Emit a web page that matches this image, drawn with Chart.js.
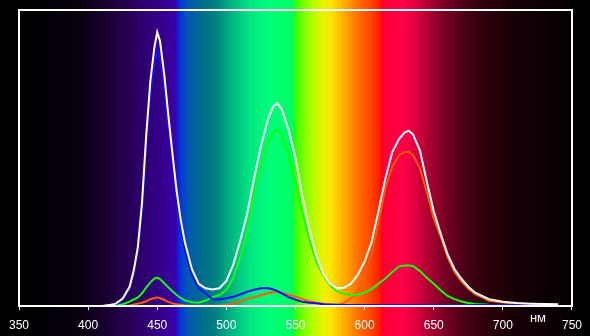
<!DOCTYPE html>
<html lang="ru">
<head>
  <meta charset="UTF-8">
  <title>Spectrum</title>
  <style>
    html, body { margin: 0; padding: 0; background: #000; }
    #wrap { width: 590px; height: 336px; }
  </style>
  <script src="https://cdn.jsdelivr.net/npm/chart.js"></script>
</head>
<body>
  <div id="wrap"><canvas id="spectrum"></canvas></div>
  <script>
    // wavelengths (nm) and relative intensity of each channel
    const wavelengths = [410, 415, 420, 425, 430, 433, 436, 439, 442, 445, 448, 450, 452, 455, 458, 461, 464, 467, 470, 475,
      480, 485, 490, 495, 500, 505, 510, 515, 520, 525, 530, 534, 537, 540, 545, 550, 555, 560, 565, 570,
      575, 580, 585, 590, 595, 600, 605, 610, 615, 620, 625, 629, 632, 635, 640, 645, 650, 655, 660, 665,
      670, 675, 680, 690, 700, 710, 720, 730, 740];

    const whiteValues = [0, 0.3, 0.8, 2.5, 6.5, 12, 20, 35, 57.5, 76, 87.6, 92.5, 89.5, 78.5, 64.5, 51.5, 39, 29, 21.5, 12.5,
      7.5, 6, 5.6, 6, 8.5, 14, 22, 31, 43, 54, 63, 67.5, 68.5, 66.5, 59.5, 50, 37, 26, 17, 11,
      7.5, 6, 6.2, 7.5, 10.5, 15, 21.5, 32, 43, 52, 56.5, 58.7, 59.2, 58, 52.5, 42, 32, 24.5, 17.5, 12.5,
      9.2, 6.5, 4.5, 2.3, 1.4, 1.0, 0.8, 0.7, 0.6];

    const blueValues = [0, 0, 0.4, 2.2, 6, 11, 18.5, 32, 54, 71, 82, 86.8, 84, 74, 61, 48.5, 36, 26.5, 19, 10.5,
      6, 4.2, 2.3, 2.2, 2.6, 3.1, 3.9, 4.8, 5.5, 6, 6.1, 5.6, 5, 4.3, 3, 2.1, 1.4, 1.1, 0.9, 0.6,
      0.5, 0.4, 0.3, 0.3, 0.3, 0.3, 0.3, 0.3, 0.3, 0.3, 0.3, 0.3, 0.3, 0.3, 0.3, 0.3, 0.3, 0.3, 0.3, 0.3,
      0.3, 0.3, 0.3, 0.3, 0.3, 0.3, 0.3, 0.3, 0.3];

    const greenValues = [0, 0, 0.2, 0.6, 1.5, 2.2, 2.9, 4.3, 6.2, 8, 9.3, 9.6, 9.1, 7.7, 6.3, 5, 3.7, 2.7, 1.9, 1.3,
      1.1, 1.8, 3, 3.7, 5.5, 9.5, 16.5, 25, 37.5, 47.5, 55, 58.8, 59.5, 58, 51.5, 42, 31.5, 22.5, 15, 10.5,
      7, 5, 4.1, 3.8, 3.8, 4.5, 5.7, 7.5, 9.3, 11.5, 13.4, 13.7, 13.7, 13.5, 11.8, 9.5, 7.5, 5.3, 3.4, 2.3,
      1.5, 1.0, 0.7, 0.4, 0.3, 0.3, 0.2, null, null];

    const orangeValues = [0, 0, 0, 0, 0.2, 0.5, 0.8, 1.1, 1.6, 2.3, 2.7, 2.9, 2.6, 2.1, 1.4, 0.9, 0.6, 0.4, 0.2, 0.1,
      0.1, 0.1, 0.1, 0.1, 0.4, 0.8, 1.6, 2.4, 3.0, 3.7, 4.3, 4.7, 4.8, 4.5, 3.8, 3.1, 2.4, 1.6, 1.1, 0.8,
      0.5, 0.3, 1, 2.5, 5, 11, 17.5, 28, 40, 47, 51, 52, 52.1, 51, 46.5, 38.5, 29.5, 23.5, 16.5, 11.5,
      8.3, 5.8, 4, 1.8, 1.2, 0.8, 0.5, null, null];

    const xTicks = [350, 400, 450, 500, 550, 600, 650, 700, 750];

    function pairs(values) {
      return wavelengths.map((w, i) => ({ x: w, y: values[i] }));
    }

    // background: visible spectrum across the whole picture
    const spectrumBackground = {
      id: 'spectrumBackground',
      beforeDraw(chart) {
        const ctx = chart.ctx;
        const w = chart.width, h = chart.height;
        const end = 575;
        const stops = [
          [0, '#000000'], [27, '#000000'], [80, '#08000f'], [100, '#150028'], [117, '#210040'],
          [140, '#2c0068'], [160, '#340088'], [176, '#3c00a8'], [178, '#1020e0'], [181, '#0038d8'],
          [188, '#0058b0'], [200, '#006a90'], [215, '#008080'], [230, '#00b080'], [250, '#00e880'],
          [272, '#00ff78'], [293, '#00ff60'], [295, '#30ff00'], [300, '#60ff00'], [312, '#b0ff00'],
          [325, '#f0f000'], [332, '#ffe000'], [343, '#ffb000'], [358, '#ff7000'], [372, '#ff4000'],
          [380, '#ff1a00'], [382, '#ff0030'], [402, '#ff0048'], [415, '#e00040'], [430, '#a80030'],
          [450, '#680020'], [470, '#400012'], [500, '#200008'], [540, '#0c0002'], [575, '#040000']
        ];
        ctx.save();
        ctx.fillStyle = '#000';
        ctx.fillRect(0, 0, w, h);
        const g = ctx.createLinearGradient(0, 0, end, 0);
        stops.forEach(s => g.addColorStop(s[0] / end, s[1]));
        ctx.fillStyle = g;
        ctx.fillRect(0, 0, end, h);
        ctx.restore();
      },
      afterDraw(chart) {
        const ctx = chart.ctx;
        const a = chart.chartArea;
        ctx.save();
        ctx.strokeStyle = '#fff';
        ctx.lineWidth = 2;
        ctx.strokeRect(a.left, a.top, a.right - a.left, a.bottom - a.top);
        ctx.fillStyle = '#fff';
        ctx.font = '13px "Liberation Sans", Arial, sans-serif';
        ctx.textAlign = 'center';
        ctx.textBaseline = 'middle';
        ctx.fillText('нм', 538, 318);
        ctx.restore();
      }
    };

    const line = (label, values, color, order) => ({
      label: label,
      data: pairs(values),
      borderColor: color,
      borderWidth: 2,
      pointRadius: 0,
      tension: 0,
      fill: false,
      spanGaps: false,
      order: order
    });

    new Chart(document.getElementById('spectrum'), {
      type: 'line',
      data: {
        datasets: [
          line('W', whiteValues, '#ffffff', 0),
          line('B', blueValues, '#1010ff', 1),
          line('G', greenValues, '#10ff10', 2),
          line('R', orangeValues, '#ff5a00', 3)
        ]
      },
      options: {
        responsive: true,
        maintainAspectRatio: false,
        animation: false,
        layout: { padding: { left: 19, right: 14, top: 10, bottom: 0 } },
        plugins: { legend: { display: false }, tooltip: { enabled: false } },
        scales: {
          x: {
            type: 'linear',
            min: 350,
            max: 750,
            afterBuildTicks(scale) { scale.ticks = xTicks.map(v => ({ value: v })); },
            afterFit(scale) { scale.height = 30; },
            border: { color: '#fff', width: 2 },
            grid: { drawOnChartArea: false, color: '#fff', tickLength: 4, lineWidth: 1 },
            ticks: {
              color: '#fff',
              padding: 8,
              maxRotation: 0,
              font: { family: '"Liberation Sans", Arial, sans-serif', size: 12 }
            }
          },
          y: {
            display: false,
            min: 0,
            max: 100
          }
        }
      },
      plugins: [spectrumBackground]
    });
  </script>
</body>
</html>
